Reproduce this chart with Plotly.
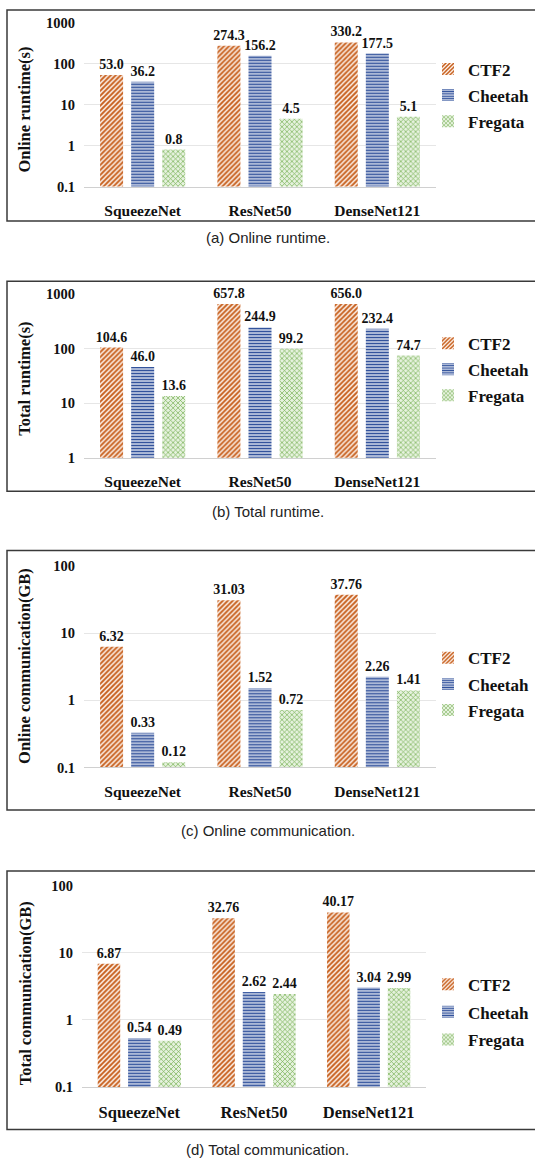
import plotly.graph_objects as go

# ---------------- data ----------------
categories = ["SqueezeNet", "ResNet50", "DenseNet121"]
series_names = ["CTF2", "Cheetah", "Fregata"]

online_runtime_ctf2 = [53.0, 274.3, 330.2]
online_runtime_cheetah = [36.2, 156.2, 177.5]
online_runtime_fregata = [0.8, 4.5, 5.1]

total_runtime_ctf2 = [104.6, 657.8, 656.0]
total_runtime_cheetah = [46.0, 244.9, 232.4]
total_runtime_fregata = [13.6, 99.2, 74.7]

online_comm_ctf2 = [6.32, 31.03, 37.76]
online_comm_cheetah = [0.33, 1.52, 2.26]
online_comm_fregata = [0.12, 0.72, 1.41]

total_comm_ctf2 = [6.87, 32.76, 40.17]
total_comm_cheetah = [0.54, 2.62, 3.04]
total_comm_fregata = [0.49, 2.44, 2.99]

ticks_a = [0.1, 1, 10, 100, 1000]
ticks_b = [1, 10, 100, 1000]
ticks_c = [0.1, 1, 10, 100]
ticks_d = [0.1, 1, 10, 100]

# ---------------- layout helpers ----------------
W, H = 535, 1171


def fx(v):
    return v / W


def fy(v):
    return 1 - v / H


SERIF = "Liberation Serif, Times New Roman, serif"
SANS = "Liberation Sans, Arial, sans-serif"

patterns = [
    dict(shape="/", fgcolor="#C65D1A", bgcolor="#FFF6F0", size=3.5, solidity=0.55, fgopacity=1),
    dict(shape="-", fgcolor="#2E4F9A", bgcolor="#FFFFFF", size=3, solidity=0.6, fgopacity=1),
    dict(shape="x", fgcolor="#72AD4E", bgcolor="#E6F2DE", size=3.5, solidity=0.35, fgopacity=1),
]

panels = [
    dict(series=[online_runtime_ctf2, online_runtime_cheetah, online_runtime_fregata],
         ticks=ticks_a, rng=[-1, 3], fmt=".1f", title="Online runtime(s)",
         top=15, bottom=181, left=84, right=436, box=(2, 216), cap_y=233,
         caption="(a) Online runtime.", leg_y=67 - 23, gap=1, title_c=103, cat_size=15.5),
    dict(series=[total_runtime_ctf2, total_runtime_cheetah, total_runtime_fregata],
         ticks=ticks_b, rng=[0, 3], fmt=".1f", title="Total runtime(s)",
         top=290, bottom=456, left=84, right=436, box=(277, 490), cap_y=510,
         caption="(b) Total runtime.", leg_y=343 - 21, gap=1, title_c=376, cat_size=15.5),
    dict(series=[online_comm_ctf2, online_comm_cheetah, online_comm_fregata],
         ticks=ticks_c, rng=[-1, 2], fmt=".2f", title="Online communication(GB)",
         top=566, bottom=770, left=84, right=436, box=(550, 813), cap_y=834,
         caption="(c) Online communication.", leg_y=660 - 19, gap=1, title_c=667, cat_size=15.5),
    dict(series=[total_comm_ctf2, total_comm_cheetah, total_comm_fregata],
         ticks=ticks_d, rng=[-1, 2], fmt=".2f", title="Total communication(GB)",
         top=890, bottom=1094, left=82, right=426, box=(875, 1137), cap_y=1157,
         caption="(d) Total communication.", leg_y=988 - 16, gap=2.5, title_c=999, cat_size=16.5),
]

fig = go.Figure()
shapes = []
annotations = []
layout_upd = {}

for i, p in enumerate(panels):
    n = "" if i == 0 else str(i + 1)
    for j, (name, vals) in enumerate(zip(series_names, p["series"])):
        fig.add_trace(go.Bar(
            x=categories, y=vals, name=name,
            xaxis="x" + n, yaxis="y" + n, legend="legend" + n,
            legendgroup=f"{name}{i}",
            marker=dict(color="#FFFFFF", line=dict(width=0), pattern=patterns[j]),
            texttemplate="%{y:" + p["fmt"] + "}", textposition="outside",
            constraintext="none", cliponaxis=False,
            textfont=dict(family=SERIF, size=14, color="#111111", weight="bold"),
            hoverinfo="skip",
        ))
    layout_upd["xaxis" + n] = dict(
        domain=[fx(p["left"]), fx(p["right"])], anchor="y" + n,
        showline=True, linecolor="#D0D0D0", linewidth=1, ticks="",
        showgrid=False, zeroline=False, ticklabelstandoff=10,
        tickfont=dict(family=SERIF, size=p["cat_size"], color="#111111", weight="bold"),
        fixedrange=True,
    )
    layout_upd["yaxis" + n] = dict(
        domain=[fy(p["bottom"]), fy(p["top"])], anchor="x" + n,
        type="log", range=p["rng"], tickvals=p["ticks"],
        ticktext=[("%g" % t) for t in p["ticks"]],
        showgrid=True, gridcolor="#E6E6E6", gridwidth=1, zeroline=False,
        showline=False, ticks="", ticklabelstandoff=8,
        tickfont=dict(family=SERIF, size=14.5, color="#111111", weight="bold"),
        fixedrange=True,
    )
    layout_upd["legend" + n] = dict(
        x=fx(428), xanchor="left", y=fy(p["leg_y"]), yanchor="top",
        traceorder="grouped", tracegroupgap=p["gap"], bgcolor="rgba(0,0,0,0)",
        font=dict(family=SERIF, size=17, color="#111111", weight="bold"),
        itemwidth=30,
    )
    b0, b1 = p["box"]
    shapes.append(dict(type="rect", xref="paper", yref="paper",
                       x0=fx(7), x1=1.02, y0=fy(b1), y1=fy(b0),
                       line=dict(color="#3A3A3A", width=1.5)))
    annotations.append(dict(text=p["caption"], xref="paper", yref="paper",
                            x=0.5, y=fy(p["cap_y"]), xanchor="center", yanchor="middle",
                            showarrow=False,
                            font=dict(family=SANS, size=15, color="#222222")))
    annotations.append(dict(text=p["title"], xref="paper", yref="paper",
                            x=fx(25), y=fy(p["title_c"]), xanchor="center", yanchor="middle",
                            textangle=-90, showarrow=False,
                            font=dict(family=SERIF, size=16.5, color="#111111", weight="bold")))

fig.update_layout(**layout_upd)
fig.update_layout(
    width=W, height=H, margin=dict(l=0, r=0, t=0, b=0),
    paper_bgcolor="#FFFFFF", plot_bgcolor="#FFFFFF",
    barmode="group", bargap=0.205, bargroupgap=0.26,
    shapes=shapes, annotations=annotations, showlegend=True,
)

fig.write_html("out.html", post_script="document.body.style.margin='0';",
               config={"displayModeBar": False})
